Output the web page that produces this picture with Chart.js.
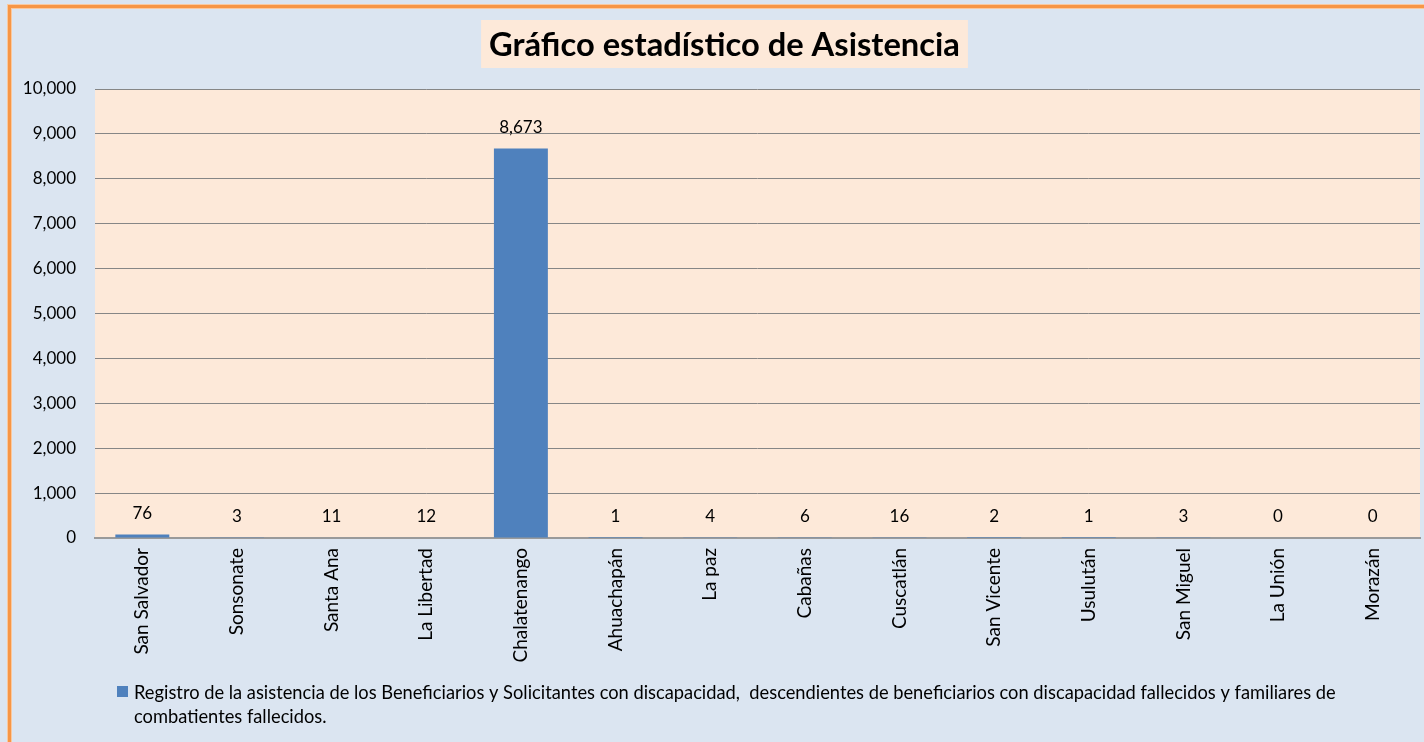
<!DOCTYPE html>
<html><head><meta charset="utf-8">
<script src="https://cdn.jsdelivr.net/npm/chart.js@4/dist/chart.umd.min.js"></script>
<style>html,body{margin:0;padding:0;background:#DBE5F1;}#wrap{width:1424px;height:742px;position:relative;}</style>
</head><body><div id="wrap"><canvas id="c" width="1424" height="742"></canvas></div>
<script>
const categories = ["San Salvador","Sonsonate","Santa Ana","La Libertad","Chalatenango","Ahuachapán","La paz","Cabañas","Cuscatlán","San Vicente","Usulután","San Miguel","La Unión","Morazán"];
const values = [76,3,11,12,8673,1,4,6,16,2,1,3,0,0];
const seriesLabel = "Registro de la asistencia de los Beneficiarios y Solicitantes con discapacidad,  descendientes de beneficiarios con discapacidad fallecidos y familiares de combatientes fallecidos.";
const titleText = "Gráfico estadístico de Asistencia";
const yMax = 10000, yStep = 1000;

const FONT = "Lato, 'Open Sans', sans-serif";
const fmt = v => v.toLocaleString('en-US');

const decor = {
  id: 'decor',
  beforeDraw(chart) {
    const ctx = chart.ctx, a = chart.chartArea;
    ctx.save();
    ctx.fillStyle = '#DBE5F1';
    ctx.fillRect(0, 0, chart.width, chart.height);
    ctx.strokeStyle = '#F9C9A0';
    ctx.lineWidth = 5;
    ctx.strokeRect(9.5, 6.5, chart.width + 20, chart.height + 20);
    ctx.strokeStyle = '#F79646';
    ctx.lineWidth = 3;
    ctx.strokeRect(9.5, 6.5, chart.width + 20, chart.height + 20);
    ctx.fillStyle = '#FDE9D9';
    ctx.fillRect(a.left, a.top, a.right - a.left, a.bottom - a.top);
    // title
    ctx.font = "bold 32.7px " + FONT;
    const tw = ctx.measureText(titleText).width;
    const cx = 724.5;
    ctx.fillStyle = '#FDE9D9';
    ctx.fillRect(cx - tw/2 - 8, 20, tw + 16, 48);
    ctx.fillStyle = '#000';
    ctx.textAlign = 'center';
    ctx.textBaseline = 'middle';
    ctx.fillText(titleText, cx, 45);
    ctx.restore();
  },
  afterDatasetsDraw(chart) {
    const ctx = chart.ctx;
    const meta = chart.getDatasetMeta(0);
    ctx.save();
    ctx.font = "17px " + FONT;
    ctx.fillStyle = '#000';
    ctx.textAlign = 'center';
    ctx.textBaseline = 'middle';
    meta.data.forEach((bar, i) => {
      ctx.fillText(fmt(values[i]), bar.x, bar.y - 21);
    });
    // legend
    const ds = chart.data.datasets[0];
    ctx.fillStyle = ds.backgroundColor;
    ctx.fillRect(117, 686, 11, 11);
    ctx.font = "18.3px " + FONT;
    ctx.fillStyle = '#000';
    ctx.textAlign = 'left';
    const words = ds.label.split(' ');
    const maxW = 1230;
    let lines = [], line = '';
    words.forEach(w => {
      const test = line === '' ? w : line + ' ' + w;
      if (ctx.measureText(test).width > maxW && line !== '') { lines.push(line); line = w; }
      else line = test;
    });
    lines.push(line);
    lines.forEach((l, k) => ctx.fillText(l, 134, 693 + k * 24));
    ctx.restore();
  }
};

new Chart(document.getElementById('c'), {
  type: 'bar',
  data: {
    labels: categories,
    datasets: [{
      label: seriesLabel,
      data: values,
      backgroundColor: '#4F81BD',
      categoryPercentage: 1,
      barPercentage: 0.57
    }]
  },
  options: {
    responsive: false,
    animation: false,
    devicePixelRatio: 1,
    layout: { padding: { top: 89, right: 4, left: 0, bottom: 0 } },
    plugins: { legend: { display: false }, title: { display: false }, tooltip: { enabled: false } },
    scales: {
      x: {
        grid: { display: false, drawTicks: false },
        border: { display: true, color: '#9A9A9A', width: 2 },
        ticks: { color: '#000', font: { family: FONT, size: 19 }, minRotation: 90, maxRotation: 90, autoSkip: false, padding: 10 },
        afterFit(s) { s.height = 204; }
      },
      y: {
        min: 0, max: yMax,
        grid: { color: '#868686', drawTicks: false, lineWidth: 1 },
        border: { display: false },
        ticks: { stepSize: yStep, color: '#000', font: { family: FONT, size: 17 }, padding: 19, callback: v => fmt(v) },
        afterFit(s) { s.width = 95; }
      }
    }
  },
  plugins: [decor]
});
</script>
</body></html>
